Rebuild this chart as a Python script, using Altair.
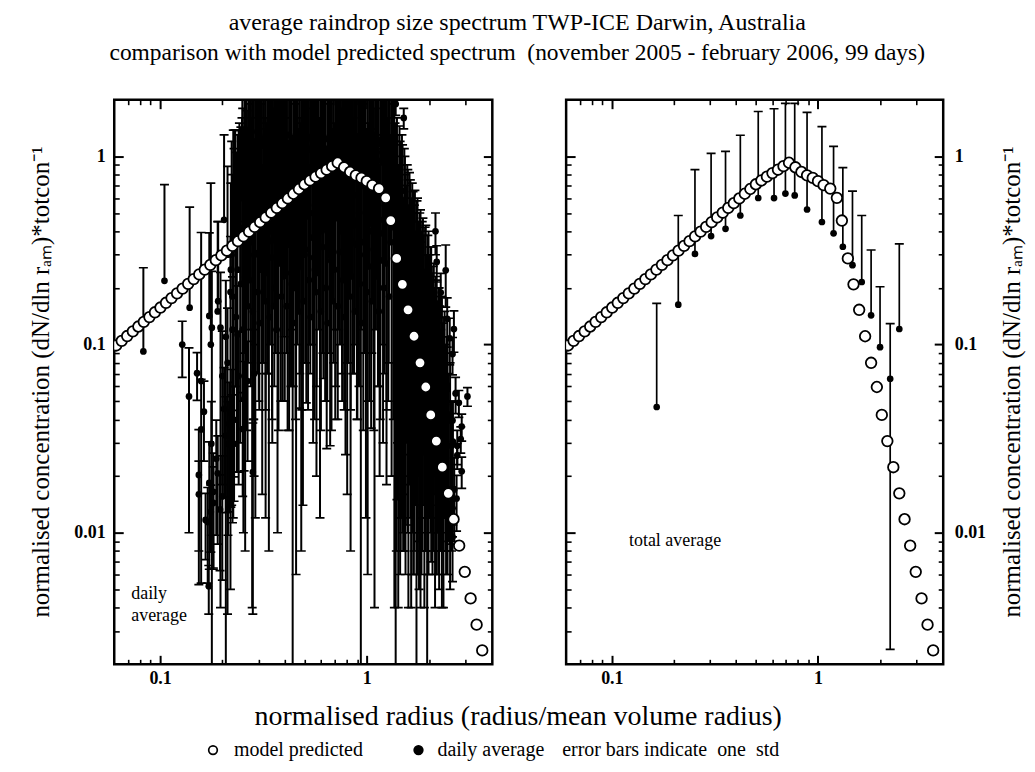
import altair as alt
import pandas as pd

FONT = "Liberation Serif"

# ---------------- model predicted spectrum (open circles) ----------------
model_r = [0.0613, 0.0652, 0.0693, 0.0738, 0.0785, 0.0834, 0.0888, 0.0944, 0.1004, 0.1068,
           0.1136, 0.1208, 0.1285, 0.1367, 0.1454, 0.1547, 0.1645, 0.175, 0.1861, 0.198,
           0.2106, 0.224, 0.2382, 0.2534, 0.2695, 0.2867, 0.3049, 0.3243, 0.345, 0.367,
           0.3903, 0.4152, 0.4416, 0.4697, 0.4996, 0.5314, 0.5652, 0.6012, 0.6395, 0.6802,
           0.7235, 0.777, 0.831, 0.885, 0.943, 1.0, 1.065, 1.147, 1.235, 1.306,
           1.396, 1.487, 1.584, 1.693, 1.81, 1.93, 2.04, 2.17, 2.32, 2.48,
           2.63, 2.80, 2.98, 3.18, 3.40, 3.62]
model_c = [0.0989, 0.1047, 0.111, 0.1176, 0.1247, 0.1321, 0.14, 0.1484, 0.1573, 0.1667,
           0.1766, 0.1872, 0.1984, 0.2102, 0.2228, 0.236, 0.2502, 0.2651, 0.2809, 0.2977,
           0.3155, 0.3343, 0.3543, 0.3754, 0.3979, 0.4217, 0.4468, 0.4735, 0.5018, 0.5318,
           0.5636, 0.5972, 0.6329, 0.6707, 0.7108, 0.7447, 0.7798, 0.8147, 0.8492, 0.8872,
           0.9247, 0.875, 0.826, 0.793, 0.768, 0.738, 0.703, 0.674, 0.602, 0.456,
           0.287, 0.209, 0.153, 0.1107, 0.080, 0.0595, 0.0423, 0.0307, 0.0223, 0.0162,
           0.0118, 0.00854, 0.0062, 0.00448, 0.00325, 0.00237]

# ---------------- daily averages (left panel) ----------------
daily_r = [
    0.083, 0.105, 0.128, 0.139, 0.138,
    0.151, 0.154, 0.154, 0.158, 0.158, 0.163, 0.166, 0.170, 0.172, 0.173,
    0.173, 0.176, 0.176, 0.177, 0.178, 0.181, 0.181, 0.187, 0.190, 0.190,
    0.191, 0.195, 0.196, 0.200, 0.200, 0.204, 0.204, 0.208, 0.208, 0.212,
    0.212, 0.213, 0.216, 0.219, 0.220, 0.220, 0.222, 0.224, 0.228, 0.228,
    0.230, 0.237, 0.240, 0.246, 0.251, 0.255, 0.265, 0.281, 0.285,
    0.222, 0.226, 0.231, 0.235, 0.240, 0.244, 0.249, 0.253, 0.258, 0.263,
    0.268, 0.273, 0.279, 0.284, 0.289, 0.295, 0.300, 0.306, 0.312, 0.318,
    0.324, 0.330, 0.336, 0.343, 0.349, 0.356, 0.363, 0.370, 0.377, 0.384,
    0.391, 0.399, 0.406, 0.414, 0.422, 0.430, 0.438, 0.447, 0.455, 0.464,
    0.473, 0.482, 0.491, 0.500, 0.510, 0.520, 0.530, 0.540, 0.550, 0.561,
    0.571, 0.582, 0.594, 0.605, 0.617, 0.628, 0.640, 0.653, 0.665, 0.678,
    0.691, 0.704, 0.718, 0.731, 0.745, 0.760, 0.774, 0.789, 0.804, 0.820,
    0.835, 0.851, 0.868, 0.884, 0.901, 0.919, 0.936, 0.954, 0.973, 0.991,
    1.010, 1.030, 1.050, 1.070, 1.090, 1.111, 1.133, 1.154, 1.177, 1.199,
    1.222, 1.246, 1.270, 1.294, 1.319, 1.344,
    1.36, 1.38, 1.40, 1.42, 1.44, 1.46, 1.48, 1.50, 1.52, 1.54,
    1.57, 1.59, 1.61, 1.64, 1.66, 1.69, 1.71, 1.74, 1.76, 1.79,
    1.82, 1.84, 1.87, 1.90, 1.93, 1.96, 1.99, 2.02, 2.05, 2.08,
    2.11, 2.14, 2.18, 2.21, 2.24, 2.28, 2.31, 2.35, 2.38, 2.42,
    2.46, 2.49, 2.53, 2.57, 2.61, 2.65,
    1.38, 1.51, 2.15, 2.18, 2.28, 2.41, 2.45, 2.52, 2.64, 2.60,
    2.69, 2.79, 3.07, 2.60, 2.88, 2.85, 2.74, 2.74, 2.88, 2.72,
    2.60, 2.53, 2.60,
    0.224, 0.228, 0.233, 0.237, 0.242, 0.246, 0.251, 0.255, 0.260, 0.265,
    0.270, 0.276, 0.281, 0.286, 0.292, 0.297, 0.303, 0.309, 0.315, 0.321,
    0.327, 0.333, 0.339, 0.346, 0.352, 0.359, 0.366, 0.373, 0.380, 0.387,
    0.395, 0.402, 0.410, 0.418, 0.426, 0.434, 0.442, 0.451, 0.459, 0.468,
    0.477, 0.486, 0.495, 0.505, 0.515, 0.525, 0.535, 0.545, 0.555, 0.566,
    0.576, 0.588, 0.599, 0.611, 0.622, 0.634, 0.646, 0.659, 0.671, 0.684,
    0.697, 0.711, 0.724, 0.738, 0.752, 0.767, 0.781, 0.796, 0.812, 0.827,
    0.843, 0.859, 0.876, 0.892, 0.910, 0.927, 0.945, 0.963, 0.982, 1.000,
    1.020, 1.040, 1.060, 1.080, 1.100, 1.122, 1.143, 1.165, 1.188, 1.210,
    1.234, 1.258, 1.282, 1.306, 1.331,
    1.37, 1.39, 1.41, 1.43, 1.45, 1.47, 1.49, 1.51, 1.53, 1.555,
    1.58, 1.60, 1.625, 1.65, 1.675, 1.70, 1.725, 1.75, 1.775, 1.805,
    1.83, 1.855, 1.885, 1.915, 1.945, 1.975, 2.005, 2.035, 2.065, 2.095,
    2.125, 2.16, 2.195, 2.225, 2.26, 2.295, 2.33, 2.365, 2.40, 2.44,
    0.250, 0.256, 0.262, 0.268, 0.275, 0.282, 0.288, 0.295, 0.302, 0.309,
    0.317, 0.324, 0.332, 0.340, 0.348, 0.357, 0.365, 0.374, 0.383, 0.392,
    0.401, 0.411, 0.421, 0.431, 0.441, 0.452, 0.462, 0.474, 0.485, 0.496,
    0.508, 0.520, 0.533, 0.546, 0.559, 0.572, 0.586, 0.600, 0.614, 0.629,
    0.644, 0.659, 0.675, 0.691, 0.707, 0.724, 0.742, 0.759, 0.777, 0.796,
    0.815, 0.835, 0.855, 0.875, 0.896, 0.917, 0.939, 0.962, 0.985, 1.008,
    1.032, 1.057, 1.082, 1.108, 1.135, 1.162, 1.190, 1.218, 1.247, 1.277,
]
daily_c = [
    0.092, 0.218, 0.100, 0.157, 0.053,
    0.0705, 0.0203, 0.016, 0.0354, 0.064, 0.044, 0.0117, 0.0114, 0.0052, 0.0184,
    0.142, 0.0129, 0.100, 0.0297, 0.123, 0.0144, 0.0165, 0.0247, 0.0207, 0.150,
    0.170, 0.0133, 0.123, 0.0156, 0.068, 0.46, 0.0455, 0.11, 0.0328, 0.08,
    0.30, 0.0297, 0.0379, 0.19, 0.0437, 0.25, 0.034, 0.12, 0.0398, 0.0297,
    0.50, 0.113, 0.068, 1.13, 0.0356, 0.0513, 0.064, 0.021, 0.07,
    0.30, 0.696, 0.72, 0.536, 0.42, 0.415, 0.60, 0.715, 0.229, 0.80,
    0.99, 0.35, 1.202, 0.52, 0.306, 0.45, 1.125, 0.25, 0.458, 0.55,
    0.806, 1.185, 0.354, 0.40, 0.765, 0.16, 1.245, 1.205, 0.30, 0.475,
    0.65, 1.305, 0.24, 0.618, 0.45, 1.18, 0.601, 0.20, 0.253, 0.85,
    0.823, 1.104, 0.407, 0.30, 1.125, 0.55, 0.50, 0.80, 1.165, 0.25,
    0.41, 0.65, 0.706, 0.40, 1.233, 0.95, 0.564, 0.30, 1.115, 0.55,
    0.69, 1.22, 0.75, 1.21, 0.45, 0.525, 0.90, 1.163, 1.108, 0.60,
    0.454, 0.35, 1.235, 0.85, 0.62, 0.50, 1.201, 0.70, 1.145, 0.506,
    1.253, 0.40, 0.718, 0.90, 0.652, 0.60, 1.18, 0.46, 0.95, 1.215,
    0.55, 1.159, 1.125, 0.75, 1.06, 1.02,
    0.952, 0.601, 0.808, 0.452, 0.735, 0.354, 0.656, 0.254, 0.563, 0.403,
    0.456, 0.227, 0.419, 0.302, 0.365, 0.178, 0.341, 0.2505, 0.3045, 0.1525,
    0.262, 0.203, 0.242, 0.127, 0.219, 0.1505, 0.203, 0.106, 0.1685, 0.113,
    0.143, 0.082, 0.113, 0.075, 0.1025, 0.064, 0.092, 0.052, 0.081, 0.048,
    0.058, 0.0395, 0.0425, 0.029, 0.0305, 0.017,
    1.90, 1.60, 0.400, 0.275, 0.189, 0.248, 0.137, 0.108, 0.121, 0.089,
    0.055, 0.049, 0.053, 0.0395, 0.0367, 0.0315, 0.029, 0.0258, 0.0212, 0.0152,
    0.0135, 0.0117, 0.0095,
    0.18, 0.32, 0.14, 0.25, 0.40, 0.21, 0.12, 0.35, 0.28, 0.16,
    0.22, 0.38, 0.15, 0.30, 0.45, 0.19, 0.13, 0.33, 0.26, 0.17,
    0.24, 0.42, 0.14, 0.29, 0.36, 0.20, 0.12, 0.31, 0.27, 0.18,
    0.23, 0.44, 0.16, 0.34, 0.39, 0.21, 0.13, 0.30, 0.25, 0.15,
    0.26, 0.41, 0.17, 0.32, 0.48, 0.22, 0.14, 0.37, 0.29, 0.19,
    0.24, 0.45, 0.15, 0.33, 0.42, 0.20, 0.13, 0.36, 0.28, 0.17,
    0.25, 0.47, 0.16, 0.31, 0.40, 0.22, 0.14, 0.38, 0.27, 0.18,
    0.23, 0.43, 0.15, 0.34, 0.46, 0.21, 0.13, 0.35, 0.30, 0.19,
    0.26, 0.44, 0.17, 0.32, 0.41, 0.23, 0.15, 0.39, 0.28, 0.20,
    0.27, 0.45, 0.18, 0.35, 0.42,
    0.76, 0.504, 0.665, 0.381, 0.603, 0.463, 0.58, 0.308, 0.504, 0.365,
    0.43, 0.285, 0.381, 0.228, 0.338, 0.279, 0.207, 0.293, 0.235, 0.255,
    0.181, 0.229, 0.203, 0.214, 0.156, 0.193, 0.159, 0.17, 0.127, 0.134,
    0.11, 0.119, 0.091, 0.103, 0.088, 0.095, 0.069, 0.076, 0.054, 0.061,
    1.10, 1.25, 1.05, 1.30, 1.15, 1.20, 1.08, 1.35, 1.12, 1.22,
    1.14, 1.28, 1.06, 1.24, 1.18, 1.11, 1.32, 1.09, 1.26, 1.16,
    1.20, 1.07, 1.30, 1.13, 1.25, 1.10, 1.34, 1.16, 1.05, 1.28,
    1.12, 1.27, 1.09, 1.22, 1.33, 1.06, 1.19, 1.14, 1.29, 1.10,
    1.24, 1.08, 1.31, 1.15, 1.21, 1.06, 1.27, 1.13, 1.35, 1.10,
    1.17, 1.30, 1.05, 1.23, 1.12, 1.28, 1.09, 1.20, 1.14, 1.26,
    1.11, 1.25, 1.07, 1.30, 1.16, 1.22, 1.05, 1.18, 1.12, 1.04,
]
daily_sd = [
    0.164, 0.49, 0.033, 0.38, 0.043,
    0.02, 0.015, 0.008, 0.03, 0.33, 0.02, 0.0045, 0.006, 0.0015, 0.012,
    0.25, 0.005, 0.62, 0.02, 0.122, 0.008, 0.01, 0.015, 0.012, 0.30,
    0.28, 0.007, 0.119, 0.01, 0.05, 0.84, 0.03, 0.109, 0.02, 0.0763,
    0.585, 0.02, 0.025, 0.185, 0.03, 0.47, 0.02, 0.1087, 0.02, 0.015,
    0.88, 0.092, 0.05, 0.3, 0.02, 0.03, 0.04, 0.0173, 0.05,
    0.90, 0.684, 0.66, 0.515, 0.95, 0.385, 1.0, 0.705, 0.221, 0.95,
    0.91, 1.7, 1.198, 0.48, 0.294, 1.9, 1.075, 2.0, 0.442, 1.8,
    0.794, 1.115, 0.346, 2.1, 0.735, 2.3, 1.155, 1.195, 2.2, 0.425,
    1.6, 1.195, 2.2, 0.583, 2.0, 1.12, 0.599, 2.3, 0.247, 1.6,
    0.777, 1.096, 0.393, 2.2, 1.076, 1.9, 0.4, 1.6, 1.135, 2.2,
    0.39, 1.8, 0.694, 2.1, 1.167, 1.4, 0.536, 2.2, 1.086, 1.9,
    0.61, 1.18, 1.7, 1.09, 2.0, 0.475, 1.5, 1.137, 1.092, 1.9,
    0.446, 2.1, 1.165, 1.6, 0.58, 2.0, 1.199, 1.7, 1.055, 0.494,
    1.247, 2.1, 0.682, 1.5, 0.648, 1.8, 1.12, 0.44, 1.4, 1.185,
    1.8, 1.141, 1.075, 1.6, 1.04, 0.98,
    0.948, 0.599, 0.793, 0.448, 0.715, 0.346, 0.644, 0.246, 0.537, 0.397,
    0.445, 0.223, 0.401, 0.298, 0.355, 0.172, 0.319, 0.2495, 0.2955, 0.1475,
    0.258, 0.197, 0.228, 0.123, 0.211, 0.1495, 0.197, 0.094, 0.1615, 0.107,
    0.127, 0.078, 0.107, 0.065, 0.0975, 0.056, 0.088, 0.048, 0.069, 0.042,
    0.052, 0.0305, 0.0375, 0.021, 0.0195, 0.008,
    0.25, 0.20, 0.10, 0.06, 0.05, 0.09, 0.04, 0.03, 0.03, 0.02,
    0.012, 0.008, 0.006, 0.01, 0.006, 0.005, 0.006, 0.004, 0.004, 0.005,
    0.004, 0.003, 0.004,
    0.62, 0.78, 0.46, 1.05, 1.10, 0.69, 1.68, 0.85, 1.72, 1.24,
    2.18, 1.22, 2.65, 0.90, 1.75, 0.71, 2.47, 1.57, 2.74, 1.23,
    1.26, 2.08, 0.86, 2.41, 1.44, 2.10, 0.98, 2.59, 1.03, 1.82,
    2.17, 1.16, 2.64, 0.86, 1.81, 0.69, 2.47, 1.60, 2.75, 1.25,
    1.24, 2.09, 0.83, 2.38, 1.32, 2.08, 0.96, 2.53, 1.01, 1.81,
    2.16, 1.15, 2.65, 0.87, 1.78, 0.70, 2.47, 1.54, 2.72, 1.23,
    1.25, 2.03, 0.84, 2.39, 1.40, 2.08, 0.96, 2.52, 1.03, 1.82,
    2.17, 1.17, 2.65, 0.86, 1.74, 0.69, 2.47, 1.55, 2.70, 1.21,
    1.24, 2.06, 0.83, 2.38, 1.39, 2.07, 0.95, 2.51, 1.02, 1.80,
    1.93, 1.15, 2.22, 0.95, 1.58,
    0.74, 0.496, 0.635, 0.369, 0.597, 0.437, 0.57, 0.292, 0.496, 0.335,
    0.42, 0.265, 0.369, 0.222, 0.312, 0.271, 0.193, 0.287, 0.215, 0.245,
    0.169, 0.221, 0.177, 0.206, 0.144, 0.187, 0.141, 0.16, 0.113, 0.126,
    0.09, 0.111, 0.079, 0.097, 0.072, 0.085, 0.061, 0.064, 0.046, 0.049,
    1.05, 1.16, 1.015, 1.18, 1.09, 1.16, 0.98, 1.28, 1.075, 1.14,
    1.06, 1.235, 0.99, 1.14, 1.14, 1.05, 1.20, 1.055, 1.17, 1.11,
    1.15, 0.98, 1.265, 1.01, 1.19, 1.06, 1.24, 1.09, 1.005, 1.20,
    1.04, 1.225, 1.02, 1.12, 1.29, 1.00, 1.07, 1.105, 1.20, 1.05,
    1.19, 0.99, 1.275, 1.03, 1.15, 1.02, 1.17, 1.06, 1.305, 1.02,
    1.09, 1.255, 0.98, 1.13, 1.08, 1.22, 0.97, 1.165, 1.05, 1.21,
    1.06, 1.16, 1.035, 1.18, 1.10, 1.18, 0.95, 1.11, 1.075, 0.96,
]

# ---------------- total average (right panel) ----------------
total_r = [0.165, 0.21, 0.253, 0.303, 0.356, 0.42, 0.513, 0.612, 0.695, 0.771,
           0.885, 1.045, 1.19, 1.32, 1.47, 1.63, 1.81, 2.0, 2.24, 2.48]
total_c = [0.0466, 0.163, 0.303, 0.377, 0.412, 0.485, 0.601, 0.60, 0.634, 0.62,
           0.522, 0.448, 0.39, 0.331, 0.264, 0.215, 0.143, 0.0968, 0.0658, 0.121]
total_sd = [0.119, 0.322, 0.547, 0.66, 0.65, 0.81, 1.13, 1.19, 1.28, 1.29,
            1.19, 0.99, 0.74, 0.54, 0.39, 0.27, 0.175, 0.106, 0.0634, 0.222]

x_major = [0.1, 1]
x_minor = [0.07, 0.08, 0.09, 0.2, 0.3, 0.4, 0.5, 0.6, 0.7, 0.8, 0.9, 2, 3]
y_major = [0.01, 0.1, 1]
y_minor = [0.003, 0.004, 0.005, 0.006, 0.007, 0.008, 0.009,
           0.02, 0.03, 0.04, 0.05, 0.06, 0.07, 0.08, 0.09,
           0.2, 0.3, 0.4, 0.5, 0.6, 0.7, 0.8, 0.9]

TITLE_1 = "average raindrop size spectrum TWP-ICE Darwin, Australia"
TITLE_2 = "comparison with model predicted spectrum\u00a0 (november 2005 - february 2006, 99 days)"

assert len(model_r) == len(model_c)
assert len(daily_r) == len(daily_c) == len(daily_sd)
assert len(total_r) == len(total_c) == len(total_sd)

XS = alt.Scale(type="log", domain=[0.06, 4.05], nice=False)
YS = alt.Scale(type="log", domain=[0.002, 2.0], nice=False)

model_df = pd.DataFrame({"r": model_r, "c": model_c})


def err_df(r, c, sd):
    lo = [ci - si for ci, si in zip(c, sd)]
    return pd.DataFrame({
        "r": r,
        "c": c,
        "hi": [ci + si for ci, si in zip(c, sd)],
        "lo": [l if l > 0 else ci for l, ci in zip(lo, c)],
        "haslo": [l > 0 for l in lo],
    })


def tick_axis(orient, values, size, width, labels=False, pad=0):
    kw = dict(orient=orient, values=values, tickSize=size, offset=-size,
              tickWidth=width, tickColor="black", domain=False, grid=False,
              ticks=True, labels=labels, title=None)
    if labels:
        kw.update(format="~g", labelFont=FONT, labelFontSize=18,
                  labelFontWeight="bold", labelColor="black", labelPadding=pad)
    return alt.Axis(**kw)


def axis_layer(xaxis, yaxis):
    return alt.Chart(model_df).mark_point(opacity=0).encode(
        x=alt.X("r:Q", scale=XS, axis=xaxis),
        y=alt.Y("c:Q", scale=YS, axis=yaxis),
    )


def axes_layers(label_side):
    other = "right" if label_side == "left" else "left"
    lpad = 9 if label_side == "left" else 11
    return [
        axis_layer(tick_axis("bottom", x_major, 9, 2, labels=True, pad=5),
                   tick_axis(label_side, y_major, 9, 2, labels=True, pad=lpad)),
        axis_layer(tick_axis("bottom", x_minor, 5, 1.6),
                   tick_axis(label_side, y_minor, 5, 1.6)),
        axis_layer(tick_axis("top", x_major, 9, 2),
                   tick_axis(other, y_major, 9, 2)),
        axis_layer(tick_axis("top", x_minor, 5, 1.6),
                   tick_axis(other, y_minor, 5, 1.6)),
    ]


def data_layers(df, width):
    x = alt.X("r:Q", scale=XS, axis=None)
    bars = alt.Chart(df).mark_rule(clip=True, color="black", strokeWidth=width).encode(
        x=x, y=alt.Y("lo:Q", scale=YS, axis=None), y2="hi:Q")
    caps_hi = alt.Chart(df).mark_tick(clip=True, color="black", orient="horizontal",
                                      size=9, thickness=1.7, opacity=1).encode(
        x=x, y=alt.Y("hi:Q", scale=YS, axis=None))
    caps_lo = alt.Chart(df[df["haslo"]]).mark_tick(clip=True, color="black", orient="horizontal",
                                                   size=9, thickness=1.7, opacity=1).encode(
        x=x, y=alt.Y("lo:Q", scale=YS, axis=None))
    dots = alt.Chart(df).mark_circle(clip=True, color="black", size=45, opacity=1).encode(
        x=x, y=alt.Y("c:Q", scale=YS, axis=None))
    return [bars, caps_hi, caps_lo, dots]


def model_layer():
    return alt.Chart(model_df).mark_point(
        clip=True, shape="circle", filled=True, fill="white", stroke="black",
        strokeWidth=1.8, size=112, opacity=1).encode(
        x=alt.X("r:Q", scale=XS, axis=None),
        y=alt.Y("c:Q", scale=YS, axis=None))


def txt(s, x, y, size, align="left", angle=0):
    return alt.Chart(pd.DataFrame({"t": [s]})).mark_text(
        font=FONT, fontSize=size, align=align, baseline="middle", angle=angle,
        color="black").encode(x=alt.value(x), y=alt.value(y), text="t:N")


def sym(x, y, fill):
    return alt.Chart(pd.DataFrame({"k": [0]})).mark_point(
        shape="circle", filled=True, fill=fill, stroke="black", strokeWidth=1.7,
        size=75, opacity=1).encode(x=alt.value(x), y=alt.value(y))


YTITLE = "normalised concentration (dN/dln r\u2090\u2098)*totcon\u207b\u00b9"
NB = "\u00a0"

left_layers = (axes_layers("left")
               + data_layers(err_df(daily_r, daily_c, daily_sd), 2.0)
               + [model_layer(),
                  txt(TITLE_1, 404, -77, 24, align="center"),
                  txt(TITLE_2, 404, -47, 23.5, align="center"),
                  txt("daily", 17, 496, 18),
                  txt("average", 17, 518, 18),
                  txt(YTITLE, -73, 283, 25, align="center", angle=270),
                  txt("normalised radius (radius/mean volume radius)", 405, 619, 28, align="center"),
                  sym(99, 652, "white"),
                  txt("model predicted", 120, 652, 20),
                  sym(305, 652, "black"),
                  txt("daily average", 324, 652, 20),
                  txt("error bars indicate" + NB + " one" + NB + " std", 449, 652, 20)])

right_layers = (axes_layers("right")
                + data_layers(err_df(total_r, total_c, total_sd), 1.7)
                + [model_layer(),
                   txt("total average", 63, 442, 18),
                   txt(YTITLE, 447, 283, 25, align="center", angle=270)])

left = alt.layer(*left_layers).resolve_axis(x="independent", y="independent").properties(
    width=379, height=566)
right = alt.layer(*right_layers).resolve_axis(x="independent", y="independent").properties(
    width=378, height=566)

chart = alt.hconcat(left, right, spacing=74, bounds="flush").properties(
    padding={"left": 19.5, "top": 0, "right": 0, "bottom": 0},
).configure_view(stroke="black", strokeWidth=2.5)

chart.save("out.html", embed_options={"renderer": "svg", "actions": False})
